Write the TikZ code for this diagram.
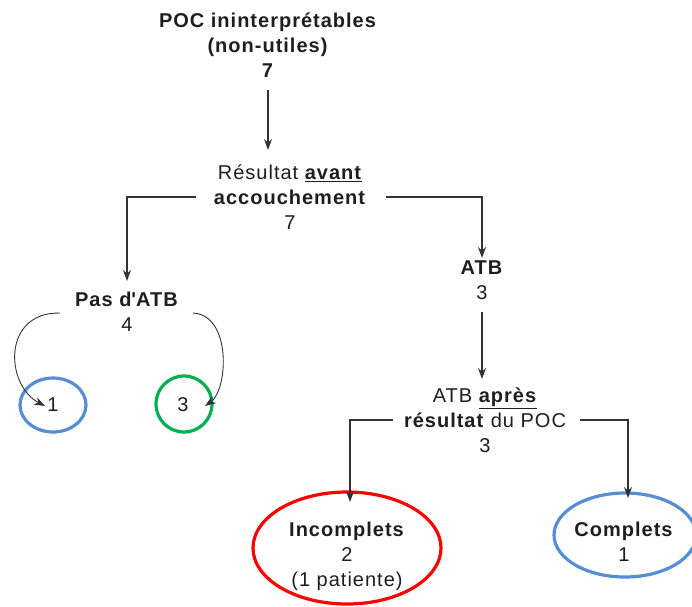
\documentclass[tikz,border=0pt]{standalone}
\usepackage{fontspec}
\setmainfont[LetterSpace=5]{Liberation Sans}
\usetikzlibrary{arrows.meta,shapes.geometric}
\definecolor{cblue}{RGB}{85,142,213}
\definecolor{cgreen}{RGB}{0,176,80}
\definecolor{cred}{RGB}{255,0,0}
\definecolor{ctext}{RGB}{30,30,30}
\tikzset{
  lbl/.style={inner sep=0pt,align=center,font=\fontsize{20}{25}\selectfont,text=ctext},
  conn/.style={draw=black!80,line width=1.1pt,-{Stealth[length=11pt,width=8pt]}},
  ring/.style={draw,ellipse,line width=3.2pt,inner sep=0pt}
}
\begin{document}
\begin{tikzpicture}[x=1pt,y=-1pt]
\useasboundingbox (0,0) rectangle (692,606);
% ellipses
\node[ring,draw=cblue,minimum width=66pt,minimum height=54pt] (e1) at (53,405) {};
\node[ring,draw=cgreen,minimum width=56pt,minimum height=56pt] (e3) at (184,404) {};
\node[ring,draw=cred,minimum width=188pt,minimum height=112pt] (einc) at (347,548) {};
\node[ring,draw=cblue,minimum width=142pt,minimum height=84pt] (ecomp) at (625,535) {};
% texts
\node[lbl] (poc) at (268,45) {\textbf{POC ininterprétables}\\\textbf{(non-utiles)}\\\textbf{7}};
\node[lbl] (res) at (290,197) {Résultat \underline{\textbf{avant}}\\\textbf{accouchement}\\7};
\node[lbl] (pas) at (127,312) {\textbf{Pas d\textquotesingle ATB}\\4};
\node[lbl] (atb) at (482,280) {\textbf{ATB}\\3};
\node[lbl] (apres) at (485,420) {ATB \underline{\textbf{après}}\\\textbf{résultat} du POC\\3};
\node[lbl] (n1) at (53,405) {1};
\node[lbl] (n3) at (183,405) {3};
\node[lbl] (inc) at (347,556) {\textbf{Incomplets}\\2\\(1 patiente)};
\node[lbl] (comp) at (624,542) {\textbf{Complets}\\1};
% connector points
\coordinate (pocB) at (268,90);
\coordinate (resT) at (268,150);
\coordinate (resL) at (196,197);
\coordinate (resR) at (386,197);
\coordinate (pasT) at (127,281);
\coordinate (atbT) at (482,258);
\coordinate (atbB) at (482,312);
\coordinate (apT) at (482,379);
\coordinate (apL) at (393,420);
\coordinate (apR) at (580,420);
\coordinate (incT) at (350,502);
\coordinate (compT) at (628,498);
\coordinate (pasL) at (60,313);
\coordinate (pasR) at (193,313);
\coordinate (oneT) at (45,406);
\coordinate (threeT) at (205,406);
% connectors
\draw[conn] (pocB) -- (resT);
\draw[conn] (resL) -| (pasT);
\draw[conn] (resR) -| (atbT);
\draw[conn] (atbB) -- (apT);
\draw[conn] (apL) -| (incT);
\draw[conn] (apR) -| (compT);
\draw[conn,line width=0.9pt] (pasL) .. controls (2,312) and (5,385) .. (oneT);
\draw[conn,line width=0.9pt] (pasR) .. controls (232,315) and (228,390) .. (threeT);
\end{tikzpicture}
\end{document}
